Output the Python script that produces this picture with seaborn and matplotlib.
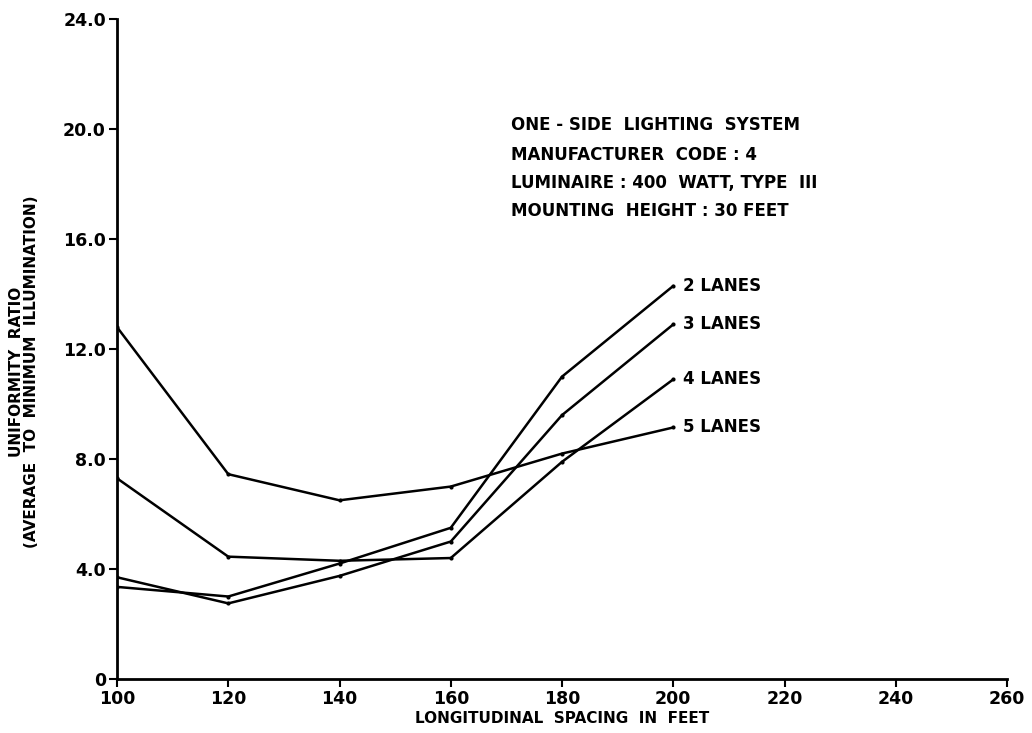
import numpy as np
import pandas as pd
import matplotlib
matplotlib.use("Agg")
import matplotlib.pyplot as plt
import seaborn as sns

spacing = [100, 120, 140, 160, 180, 200]
lanes_2 = [3.35, 3.0, 4.2, 5.5, 11.0, 14.3]
lanes_3 = [3.7, 2.75, 3.75, 5.0, 9.6, 12.9]
lanes_4 = [7.3, 4.45, 4.3, 4.4, 7.9, 10.9]
lanes_5 = [12.8, 7.45, 6.5, 7.0, 8.2, 9.15]
series_names = ["2 LANES", "3 LANES", "4 LANES", "5 LANES"]
x_ticks = [100, 120, 140, 160, 180, 200, 220, 240, 260]
y_ticks = [0, 4, 8, 12, 16, 20, 24]
y_tick_labels = ["0", "4.0", "8.0", "12.0", "16.0", "20.0", "24.0"]
info_lines = ["ONE - SIDE  LIGHTING  SYSTEM",
              "MANUFACTURER  CODE : 4",
              "LUMINAIRE : 400  WATT, TYPE  III",
              "MOUNTING  HEIGHT : 30 FEET"]

df = pd.DataFrame({
    "spacing": spacing * 4,
    "ratio": lanes_2 + lanes_3 + lanes_4 + lanes_5,
    "lanes": [n for n in series_names for _ in spacing],
})

sns.set_style("ticks")
plt.rcParams["font.family"] = ["DejaVu Sans"]
plt.rcParams["font.weight"] = "bold"
for k in ["text.color", "axes.labelcolor", "xtick.color", "ytick.color", "axes.edgecolor"]:
    plt.rcParams[k] = "black"

fig = plt.figure(figsize=(10.32, 7.33), dpi=100)
ax = fig.add_axes([0.1134, 0.0737, 0.8624, 0.900])

sns.lineplot(data=df, x="spacing", y="ratio", hue="lanes",
             palette=["black"] * 4, linewidth=1.8, marker="o",
             markersize=3, markeredgewidth=0, legend=False, ax=ax)

ax.set_xlim(100, 260)
ax.set_ylim(0, 24)
ax.set_xticks(x_ticks)
ax.set_xticklabels([str(t) for t in x_ticks], fontsize=12.5, fontweight="bold")
ax.set_yticks(y_ticks)
ax.set_yticklabels(y_tick_labels, fontsize=12.5, fontweight="bold")
ax.tick_params(axis="both", direction="out", length=6, width=1.5, color="black", pad=2)
for s in ["top", "right"]:
    ax.spines[s].set_visible(False)
for s in ["left", "bottom"]:
    ax.spines[s].set_linewidth(2)
    ax.spines[s].set_color("black")

ax.set_xlabel("LONGITUDINAL  SPACING  IN  FEET", fontsize=11, fontweight="bold", labelpad=2)
ax.set_ylabel("UNIFORMITY  RATIO\n(AVERAGE  TO  MINIMUM  ILLUMINATION)", fontsize=11,
              fontweight="bold", linespacing=1.0)
ax.yaxis.set_label_coords(-0.088, 0.465)

# lane labels at end of each line
for name, vals in zip(series_names, [lanes_2, lanes_3, lanes_4, lanes_5]):
    ax.annotate(name, (spacing[-1], vals[-1]), xytext=(7, 0), textcoords="offset points",
                va="center", ha="left", fontsize=12, fontweight="bold")

# info text block
info_y = [20.15, 19.05, 18.03, 17.04]
for txt, yy in zip(info_lines, info_y):
    ax.text(170.8, yy, txt, fontsize=12, fontweight="bold", va="center", ha="left")

fig.savefig("out.png", dpi=100)
